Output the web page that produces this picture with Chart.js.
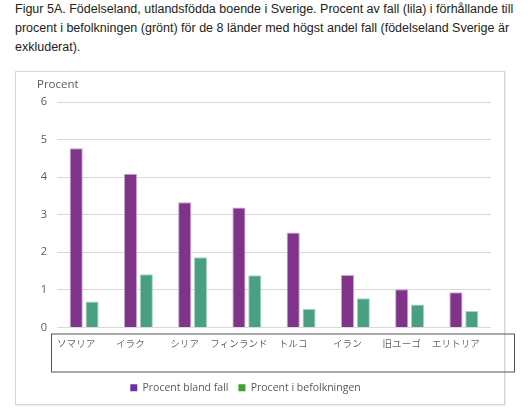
<!DOCTYPE html>
<html>
<head>
<meta charset="utf-8">
<script src="https://cdn.jsdelivr.net/npm/chart.js@4/dist/chart.umd.min.js"></script>
<style>
  html, body { margin: 0; padding: 0; background: #fff; }
  #wrap { position: relative; width: 530px; height: 415px; overflow: hidden; }
  #title {
    position: absolute; left: 15px; top: 0px;
    font: 12.5px "Liberation Sans", Arial, sans-serif; color: #222;
    line-height: 19px; white-space: nowrap;
  }
  #frame {
    position: absolute; left: 15px; top: 71px; width: 490px; height: 334px;
    box-sizing: border-box; border: 1px solid #d6d6d6;
    box-shadow: 1px 1px 1px #eeeeee;
  }
  #c { position: absolute; left: 0; top: 0; }
</style>
</head>
<body>
<div id="wrap">
  <div id="title">Figur 5A. Födelseland, utlandsfödda boende i Sverige. Procent av fall (lila) i förhållande till<br>procent i befolkningen (grönt) för de 8 länder med högst andel fall (födelseland Sverige är<br>exkluderat).</div>
  <div id="frame"></div>
  <canvas id="c" width="530" height="415"></canvas>
</div>
<script>
// data
const countries = ['ソマリア', 'イラク', 'シリア', 'フィンランド', 'トルコ', 'イラン', '旧ユーゴ', 'エリトリア']
const fallPct = [4.77, 4.09, 3.33, 3.19, 2.53, 1.40, 1.02, 0.94]
const befolkPct = [0.69, 1.42, 1.87, 1.39, 0.50, 0.78, 0.61, 0.44]
const seriesNames = ['Procent bland fall', 'Procent i befolkningen']
const legendColors = ['#7030a0', '#3f9f2f']

const grey = '#595959'

// label box under the axis + the "Procent" caption
const extras = {
  id: 'extras',
  afterDraw(chart) {
    const { ctx, chartArea } = chart
    ctx.save()
    ctx.strokeStyle = '#555'
    ctx.lineWidth = 1
    ctx.strokeRect(chartArea.left - 6 + 0.5, chartArea.bottom + 6 + 0.5,
      chartArea.right - chartArea.left + 29, 38)
    ctx.fillStyle = grey
    ctx.font = '11.5px "Open Sans", sans-serif'
    ctx.textBaseline = 'middle'
    ctx.textAlign = 'left'
    ctx.fillText('Procent', chartArea.left - 20, chartArea.top - 17)
    ctx.restore()
  }
}

Chart.defaults.font.family = '"Open Sans", sans-serif'

new Chart(document.getElementById('c'), {
  type: 'bar',
  data: {
    labels: countries,
    datasets: [
      {
        label: seriesNames[0],
        data: fallPct,
        backgroundColor: '#7f3389',
        borderColor: '#c9a6d0',
        borderWidth: 1,
        categoryPercentage: 0.584,
        barPercentage: 0.83
      },
      {
        label: seriesNames[1],
        data: befolkPct,
        backgroundColor: '#48a080',
        borderColor: '#a8d6c4',
        borderWidth: 1,
        categoryPercentage: 0.584,
        barPercentage: 0.83
      }
    ]
  },
  options: {
    responsive: false,
    animation: false,
    devicePixelRatio: 1,
    layout: { padding: { left: 0, right: 39, top: 102, bottom: 12 } },
    plugins: {
      tooltip: { enabled: false },
      legend: {
        position: 'bottom',
        labels: {
          color: grey,
          font: { size: 10.5 },
          boxWidth: 7,
          boxHeight: 7,
          padding: 10,
          generateLabels(chart) {
            return chart.data.datasets.map((ds, i) => ({
              text: ds.label,
              fillStyle: legendColors[i],
              strokeStyle: legendColors[i],
              lineWidth: 0,
              fontColor: grey,
              datasetIndex: i,
              hidden: false
            }))
          }
        }
      }
    },
    scales: {
      x: {
        grid: { display: false },
        border: { display: false },
        ticks: {
          color: '#111',
          font: { family: '"Noto Sans CJK JP", sans-serif', size: 9.5, weight: '300' },
          labelOffset: -8,
          padding: 2,
          maxRotation: 0,
          autoSkip: false
        },
        afterFit(scale) { scale.height = 45 }
      },
      y: {
        min: 0,
        max: 6,
        grid: { color: '#d9d9d9', drawTicks: false },
        border: { display: false },
        ticks: {
          stepSize: 1,
          color: grey,
          font: { size: 11 },
          padding: 10
        },
        afterFit(scale) { scale.width = 57 }
      }
    }
  },
  plugins: [extras]
})
</script>
</body>
</html>
